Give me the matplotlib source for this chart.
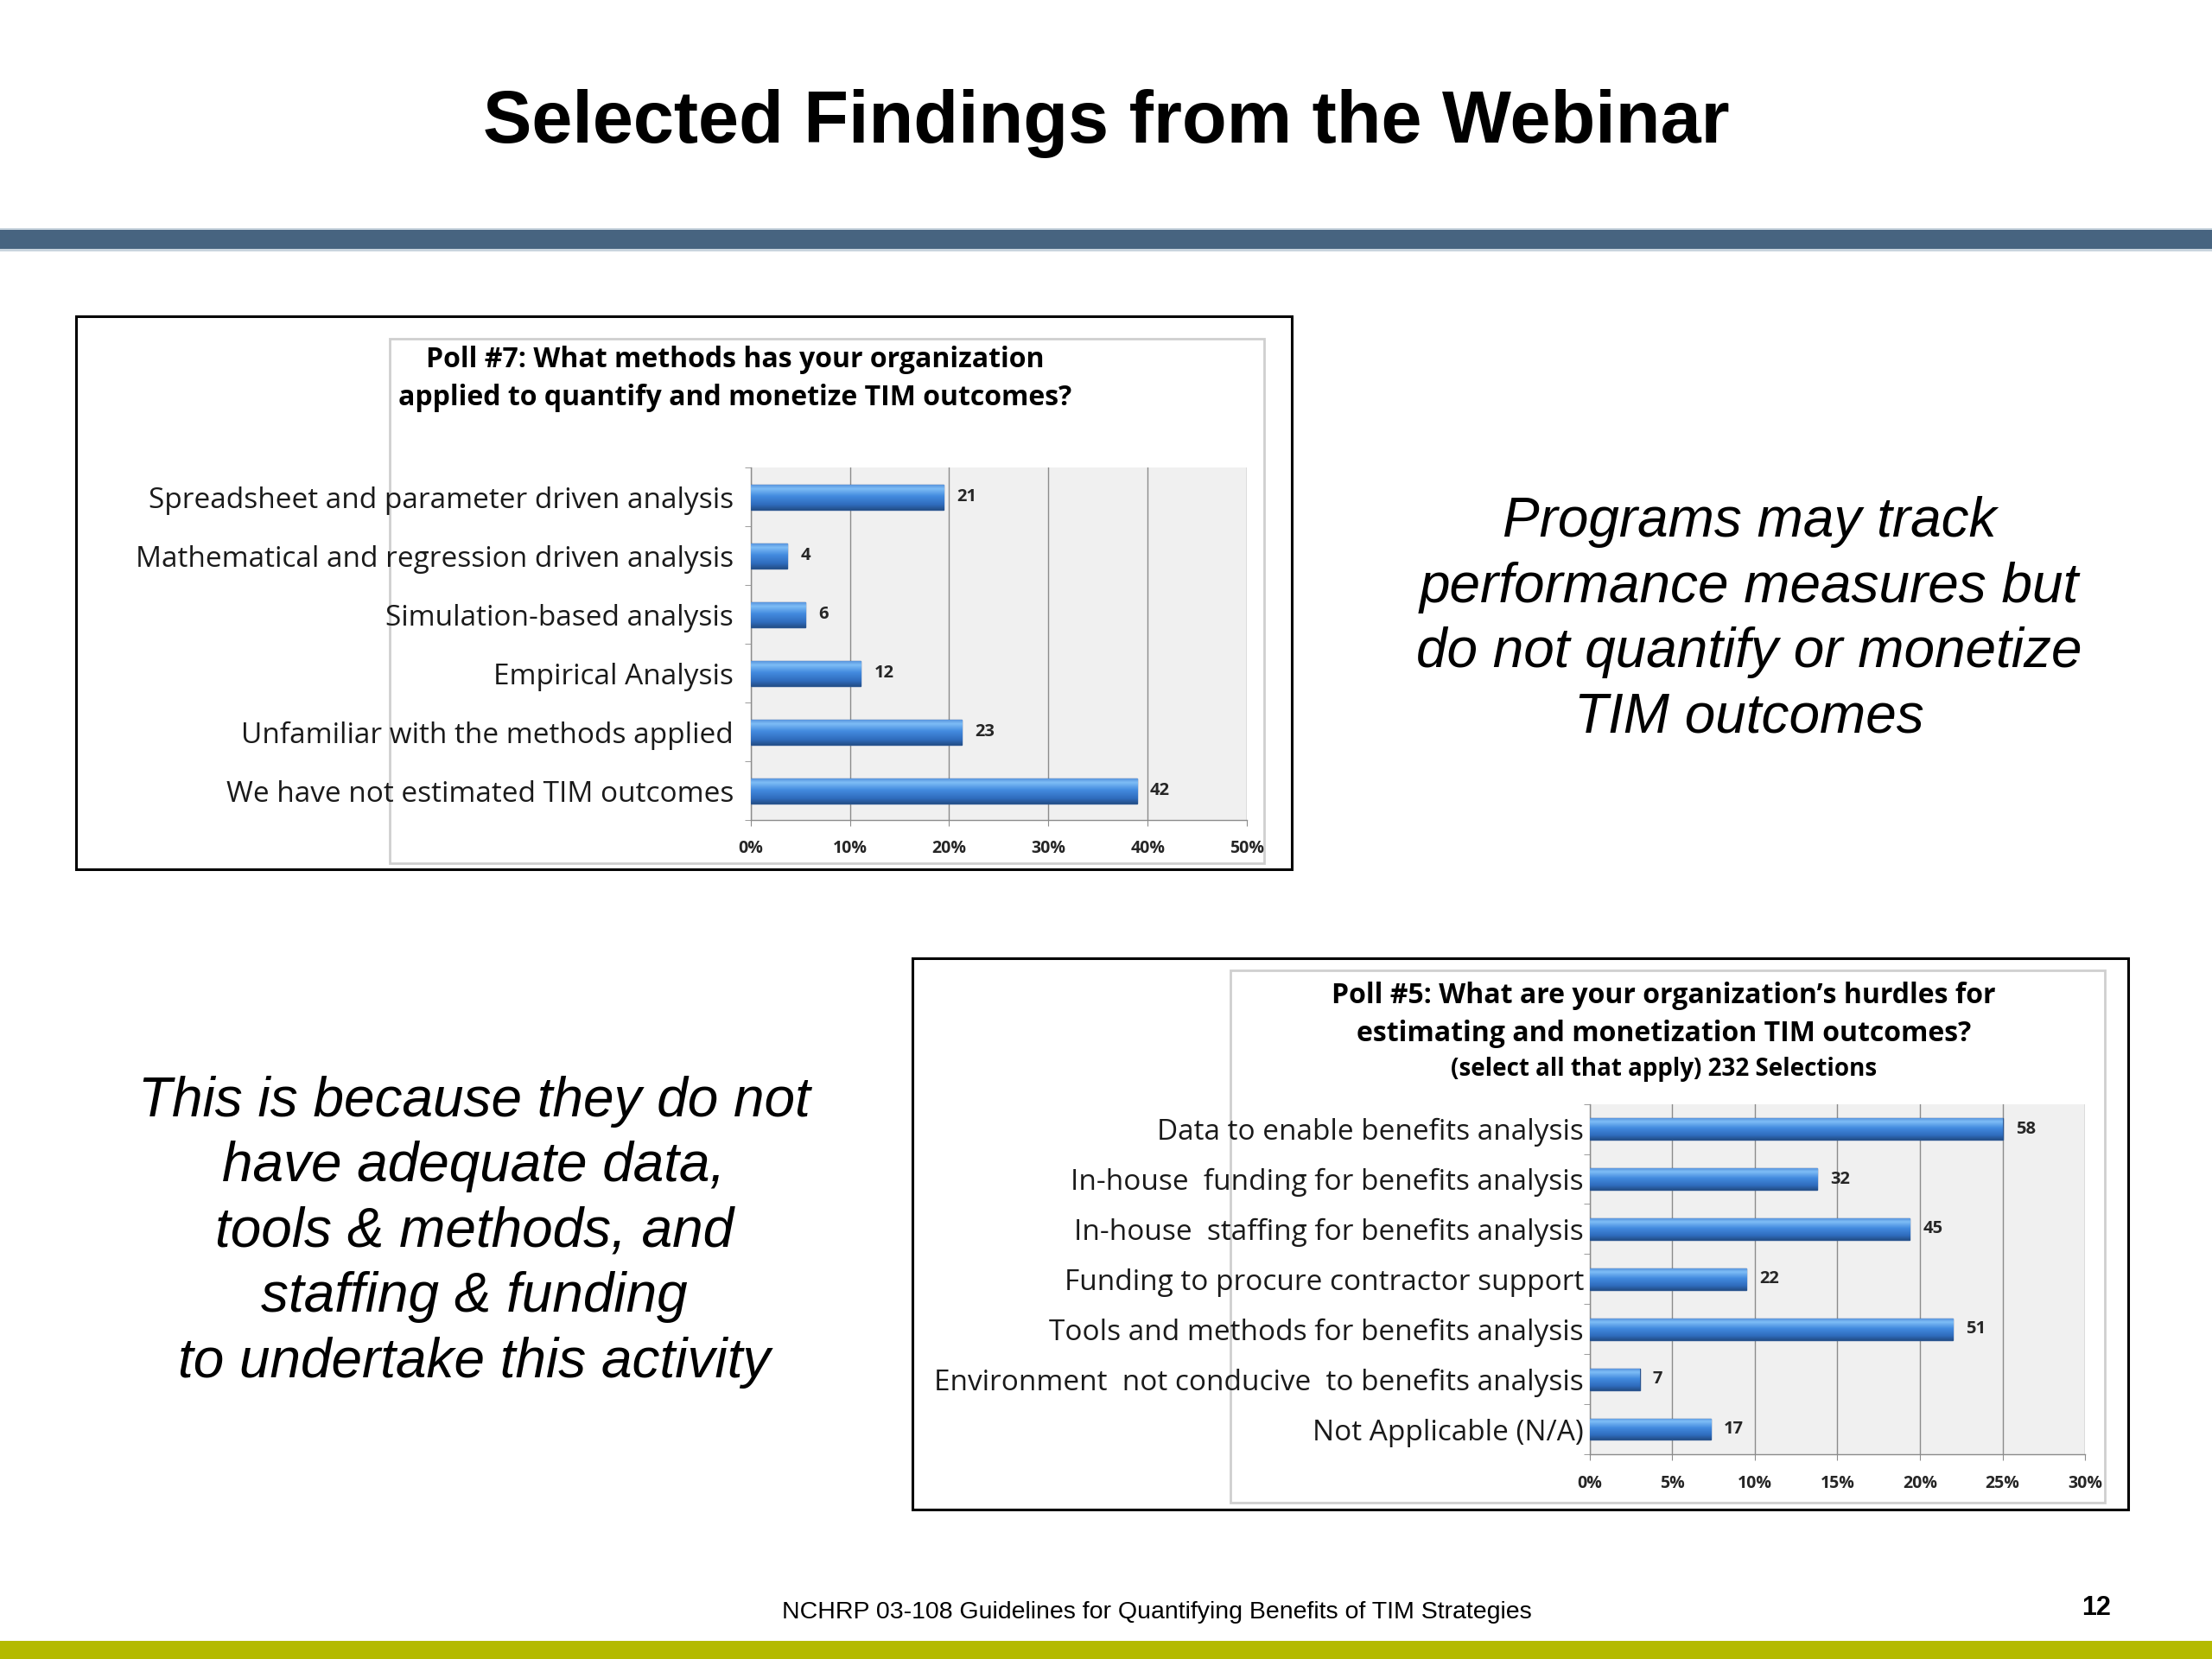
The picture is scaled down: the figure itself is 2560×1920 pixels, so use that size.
import numpy as np
import matplotlib.pyplot as plt
from matplotlib.patches import Rectangle
from matplotlib.colors import LinearSegmentedColormap

# poll 7
methods = ['Spreadsheet and parameter driven analysis',
           'Mathematical and regression driven analysis',
           'Simulation-based analysis',
           'Empirical Analysis',
           'Unfamiliar with the methods applied',
           'We have not estimated TIM outcomes']
method_counts = [21, 4, 6, 12, 23, 42]
method_ticks = [0, 10, 20, 30, 40, 50]

# poll 5
hurdles = ['Data to enable benefits analysis',
           'In-house  funding for benefits analysis',
           'In-house  staffing for benefits analysis',
           'Funding to procure contractor support',
           'Tools and methods for benefits analysis',
           'Environment  not conducive  to benefits analysis',
           'Not Applicable (N/A)']
hurdle_counts = [58, 32, 45, 22, 51, 7, 17]
hurdle_ticks = [0, 5, 10, 15, 20, 25, 30]

FONT = 'Open Sans'
bar_cmap = LinearSegmentedColormap.from_list(
    'barblue', [(0, '#5a96de'), (0.15, '#7ebdf6'), (0.45, '#438bdf'),
                (0.8, '#2f6cbd'), (1, '#24508a')])
grad = np.linspace(0, 1, 64).reshape(-1, 1)


def draw_poll(ax, labels, counts, ticks, pad, tick_pad):
    total = float(sum(counts))
    pct = [c / total * 100 for c in counts]
    y = np.arange(len(labels))
    ax.set_facecolor('#f0f0f0')
    bars = ax.barh(y, pct, height=0.42, color='#3f85d8', edgecolor='#2a5590', lw=1.0, zorder=3)
    for b in bars:
        x0, y0 = b.get_xy()
        w, h = b.get_width(), b.get_height()
        im = ax.imshow(grad, extent=(x0, x0 + w, y0 + h, y0), origin='upper',
                       aspect='auto', cmap=bar_cmap, zorder=3.5)
        im.set_clip_path(b)
    for yi, p, c in zip(y, pct, counts):
        ax.annotate(str(c), (p, yi), xytext=(11, 0), textcoords='offset points',
                    va='center', ha='left', fontsize=14.5, fontweight='bold',
                    family=FONT, color='#262626')
    ax.set_xlim(ticks[0], ticks[-1])
    ax.set_ylim(len(labels) - 0.5, -0.5)
    ax.set_xticks(ticks)
    ax.set_xticklabels(['%d%%' % t for t in ticks], fontsize=14, fontweight='bold',
                       family=FONT, color='#262626')
    ax.set_yticks(y)
    ax.set_yticklabels(labels, fontsize=24, family=FONT, color='#1a1a1a')
    ax.set_yticks(np.arange(-0.5, len(labels)), minor=True)
    ax.tick_params(axis='y', which='major', length=0, pad=pad)
    ax.tick_params(axis='y', which='minor', length=5, color='#8c8c8c')
    ax.tick_params(axis='x', length=5, color='#8c8c8c', pad=tick_pad)
    ax.xaxis.grid(True, color='#8c8c8c', lw=1.0)
    ax.set_axisbelow(True)
    for s in ['top', 'right']:
        ax.spines[s].set_visible(False)
    for s in ['left', 'bottom']:
        ax.spines[s].set_color('#8c8c8c')
        ax.spines[s].set_linewidth(1.0)


fig = plt.figure(figsize=(25.6, 19.2), dpi=100)

# bands
fig.add_artist(Rectangle((0, 0.8495), 1, 0.0119, transform=fig.transFigure,
                         facecolor='#476480', edgecolor='none'))
fig.add_artist(Rectangle((0, 0.8485), 1, 0.0013, transform=fig.transFigure,
                         facecolor='#c9d5de', edgecolor='none'))
fig.add_artist(Rectangle((0, 0.8614), 1, 0.0013, transform=fig.transFigure,
                         facecolor='#c9d5de', edgecolor='none'))
fig.add_artist(Rectangle((0, 0), 1, 0.011, transform=fig.transFigure,
                         facecolor='#b4ba00', edgecolor='none'))

fig.text(0.5, 0.9141, 'Selected Findings from the Webinar', ha='center', va='baseline',
         fontsize=61, fontweight='bold', family='Liberation Sans')

# boxes
fig.add_artist(Rectangle((0.0344, 0.4762), 0.5497, 0.3333, transform=fig.transFigure,
                         facecolor='none', edgecolor='black', lw=2.2, zorder=5))
fig.add_artist(Rectangle((0.1760, 0.4796), 0.3954, 0.3163, transform=fig.transFigure,
                         facecolor='white', edgecolor='#cfcfcf', lw=2, zorder=-1))
fig.add_artist(Rectangle((0.4126, 0.0901), 0.5497, 0.3325, transform=fig.transFigure,
                         facecolor='none', edgecolor='black', lw=2.2, zorder=5))
fig.add_artist(Rectangle((0.5561, 0.0944), 0.3954, 0.3206, transform=fig.transFigure,
                         facecolor='white', edgecolor='#cfcfcf', lw=2, zorder=-1))

ax1 = fig.add_axes([0.3393, 0.5055, 0.2245, 0.2126])
draw_poll(ax1, methods, method_counts, method_ticks, pad=14, tick_pad=11)
fig.text(0.3323, 0.7832, 'Poll #7: What methods has your organization', ha='center',
         va='center', fontsize=23, fontweight='bold', family=FONT)
fig.text(0.3323, 0.7602, 'applied to quantify and monetize TIM outcomes?', ha='center',
         va='center', fontsize=23, fontweight='bold', family=FONT)

ax2 = fig.add_axes([0.7187, 0.1233, 0.2239, 0.2113])
draw_poll(ax2, hurdles, hurdle_counts, hurdle_ticks, pad=5, tick_pad=12)
fig.text(0.7522, 0.3997, 'Poll #5: What are your organization\u2019s hurdles for', ha='center',
         va='center', fontsize=23, fontweight='bold', family=FONT)
fig.text(0.7522, 0.3767, 'estimating and monetization TIM outcomes?', ha='center',
         va='center', fontsize=23, fontweight='bold', family=FONT)
fig.text(0.7522, 0.3554, '(select all that apply) 232 Selections', ha='center',
         va='center', fontsize=20, fontweight='bold', family=FONT)

fig.text(0.7908, 0.6262, 'Programs may track\nperformance measures but\ndo not quantify or monetize\nTIM outcomes',
         ha='center', va='center', multialignment='center', fontsize=46, style='italic',
         family='Liberation Sans', linespacing=1.33)
fig.text(0.2143, 0.2575, 'This is because they do not\nhave adequate data,\ntools & methods, and\nstaffing & funding\nto undertake this activity',
         ha='center', va='center', multialignment='center', fontsize=46, style='italic',
         family='Liberation Sans', linespacing=1.33)

fig.text(0.523, 0.0281, 'NCHRP 03-108 Guidelines for Quantifying Benefits of TIM Strategies',
         ha='center', va='center', fontsize=20.5, family='Liberation Sans')
fig.text(0.9477, 0.0306, '12', ha='center', va='center', fontsize=22, fontweight='bold',
         family='Liberation Sans')

fig.savefig('out.png', dpi=100)
